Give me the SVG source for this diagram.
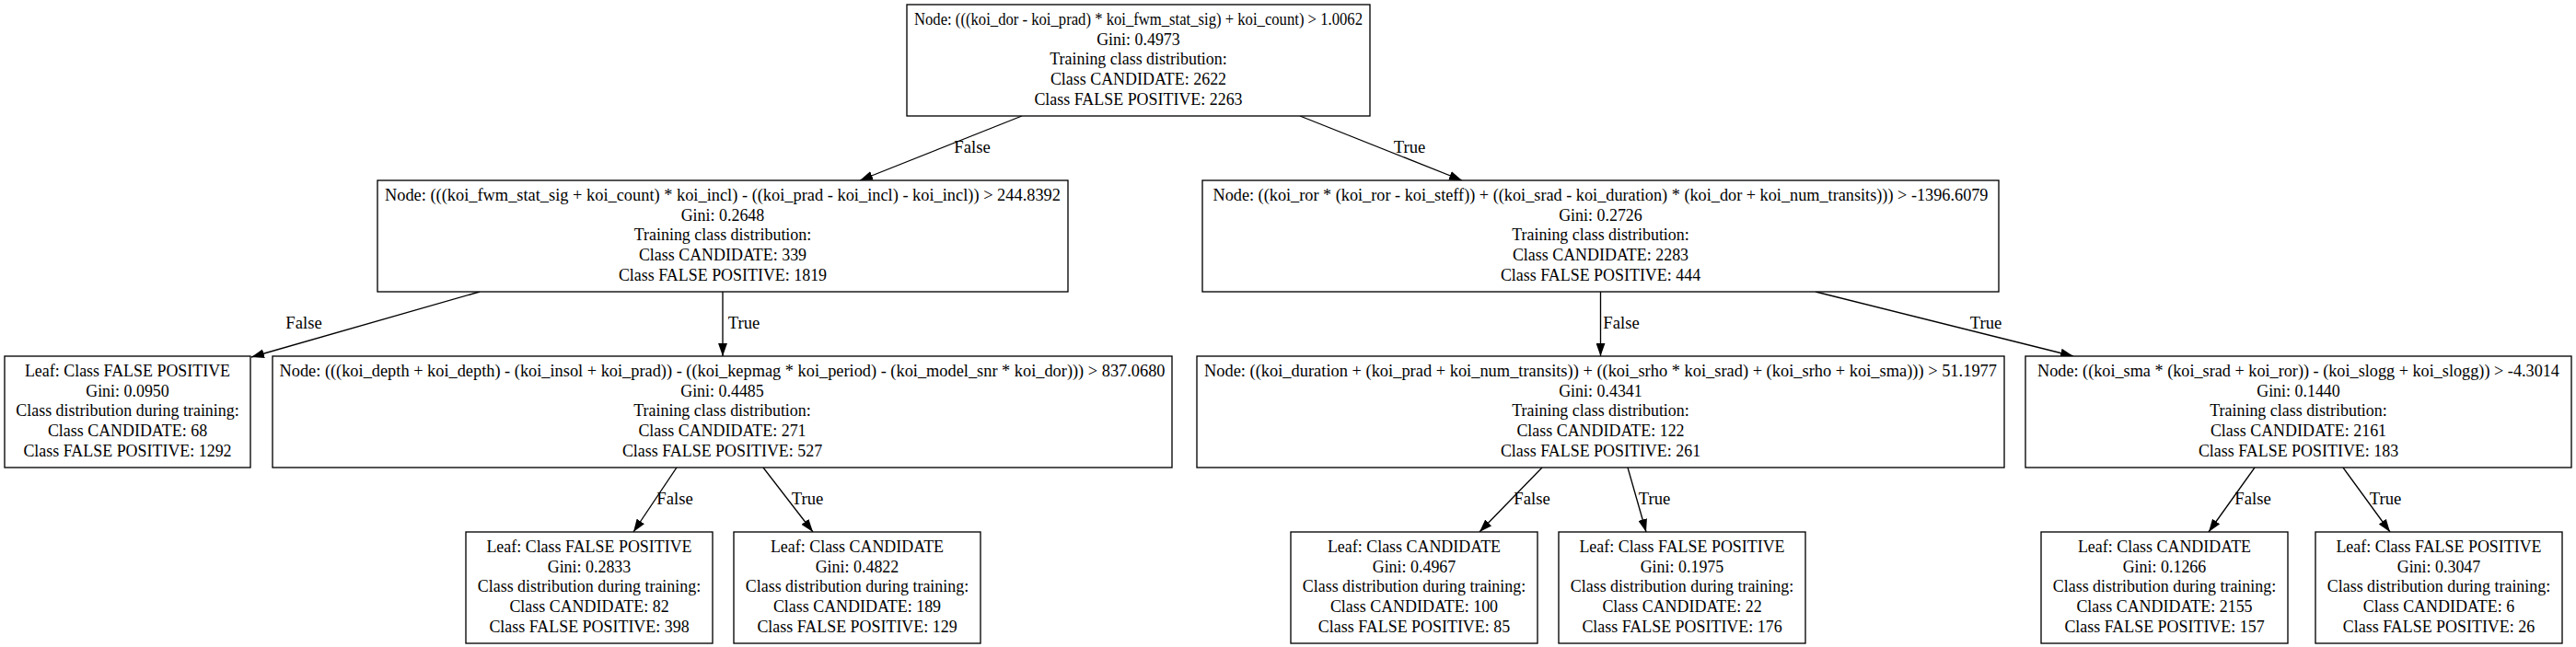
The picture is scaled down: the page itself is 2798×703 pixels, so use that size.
<svg xmlns="http://www.w3.org/2000/svg" width="2798" height="703" viewBox="0 0 2798 703">
<style>
.box{fill:#fff;stroke:#000;stroke-width:1.33}
.t{font-family:"Liberation Serif","Times New Roman",serif;font-size:18.67px;text-anchor:middle;fill:#000}
.e{stroke:#000;stroke-width:1.33;fill:none;marker-end:url(#arr)}
</style>
<defs>
<marker id="arr" markerUnits="userSpaceOnUse" markerWidth="14" markerHeight="10" refX="13.3" refY="4.7" orient="auto" viewBox="0 0 13.3 9.4"><path d="M0,0 L13.3,4.7 L0,9.4 z" fill="#000"/></marker>
</defs>
<rect width="2798" height="703" fill="#fff"/>
<g id="edges">
<line class="e" x1="1110" y1="126" x2="934" y2="196"/>
<line class="e" x1="1412" y1="126" x2="1588" y2="196"/>
<line class="e" x1="521" y1="317" x2="273" y2="388"/>
<line class="e" x1="785" y1="317" x2="785" y2="387"/>
<line class="e" x1="1738.5" y1="317" x2="1738.5" y2="387"/>
<line class="e" x1="1972" y1="317" x2="2252" y2="387"/>
<line class="e" x1="735" y1="508" x2="688" y2="578"/>
<line class="e" x1="829" y1="508" x2="883" y2="578"/>
<line class="e" x1="1675" y1="508" x2="1607" y2="578"/>
<line class="e" x1="1768" y1="508" x2="1788" y2="578"/>
<line class="e" x1="2449" y1="508" x2="2399" y2="578"/>
<line class="e" x1="2545" y1="508" x2="2596" y2="578"/>
<text class="t" x="1056" y="166">False</text>
<text class="t" x="1531" y="166">True</text>
<text class="t" x="330" y="357">False</text>
<text class="t" x="808" y="357">True</text>
<text class="t" x="1761" y="357">False</text>
<text class="t" x="2157" y="357">True</text>
<text class="t" x="733" y="548">False</text>
<text class="t" x="877" y="548">True</text>
<text class="t" x="1664" y="548">False</text>
<text class="t" x="1797" y="548">True</text>
<text class="t" x="2447" y="548">False</text>
<text class="t" x="2591" y="548">True</text>
</g>
<g id="n0">
<rect class="box" x="985" y="5" width="503" height="121"/>
<text class="t" transform="matrix(0.96 0 0 1 49.46 0)"><tspan x="1236.5" y="27" textLength="507.3" lengthAdjust="spacingAndGlyphs">Node: (((koi_dor - koi_prad) * koi_fwm_stat_sig) + koi_count) &gt; 1.0062</tspan><tspan x="1236.5" y="48.75">Gini: 0.4973</tspan><tspan x="1236.5" y="70.5">Training class distribution:</tspan><tspan x="1236.5" y="92.25">Class CANDIDATE: 2622</tspan><tspan x="1236.5" y="114">Class FALSE POSITIVE: 2263</tspan></text>
</g>
<g id="n1">
<rect class="box" x="410" y="196" width="750" height="121"/>
<text class="t" transform="matrix(0.96 0 0 1 31.4 0)"><tspan x="785" y="218" textLength="764.6" lengthAdjust="spacingAndGlyphs">Node: (((koi_fwm_stat_sig + koi_count) * koi_incl) - ((koi_prad - koi_incl) - koi_incl)) &gt; 244.8392</tspan><tspan x="785" y="239.75">Gini: 0.2648</tspan><tspan x="785" y="261.5">Training class distribution:</tspan><tspan x="785" y="283.25">Class CANDIDATE: 339</tspan><tspan x="785" y="305">Class FALSE POSITIVE: 1819</tspan></text>
</g>
<g id="n2">
<rect class="box" x="1306" y="196" width="865" height="121"/>
<text class="t" transform="matrix(0.96 0 0 1 69.54 0)"><tspan x="1738.5" y="218" textLength="877.1" lengthAdjust="spacingAndGlyphs">Node: ((koi_ror * (koi_ror - koi_steff)) + ((koi_srad - koi_duration) * (koi_dor + koi_num_transits))) &gt; -1396.6079</tspan><tspan x="1738.5" y="239.75">Gini: 0.2726</tspan><tspan x="1738.5" y="261.5">Training class distribution:</tspan><tspan x="1738.5" y="283.25">Class CANDIDATE: 2283</tspan><tspan x="1738.5" y="305">Class FALSE POSITIVE: 444</tspan></text>
</g>
<g id="n3">
<rect class="box" x="5" y="387" width="267" height="121"/>
<text class="t" transform="matrix(0.96 0 0 1 5.54 0)"><tspan x="138.5" y="409">Leaf: Class FALSE POSITIVE</tspan><tspan x="138.5" y="430.75">Gini: 0.0950</tspan><tspan x="138.5" y="452.5">Class distribution during training:</tspan><tspan x="138.5" y="474.25">Class CANDIDATE: 68</tspan><tspan x="138.5" y="496">Class FALSE POSITIVE: 1292</tspan></text>
</g>
<g id="n4">
<rect class="box" x="296" y="387" width="977" height="121"/>
<text class="t" transform="matrix(0.96 0 0 1 31.38 0)"><tspan x="784.5" y="409" textLength="1002.1" lengthAdjust="spacingAndGlyphs">Node: (((koi_depth + koi_depth) - (koi_insol + koi_prad)) - ((koi_kepmag * koi_period) - (koi_model_snr * koi_dor))) &gt; 837.0680</tspan><tspan x="784.5" y="430.75">Gini: 0.4485</tspan><tspan x="784.5" y="452.5">Training class distribution:</tspan><tspan x="784.5" y="474.25">Class CANDIDATE: 271</tspan><tspan x="784.5" y="496">Class FALSE POSITIVE: 527</tspan></text>
</g>
<g id="n5">
<rect class="box" x="1300" y="387" width="877" height="121"/>
<text class="t" transform="matrix(0.96 0 0 1 69.54 0)"><tspan x="1738.5" y="409" textLength="896.9" lengthAdjust="spacingAndGlyphs">Node: ((koi_duration + (koi_prad + koi_num_transits)) + ((koi_srho * koi_srad) + (koi_srho + koi_sma))) &gt; 51.1977</tspan><tspan x="1738.5" y="430.75">Gini: 0.4341</tspan><tspan x="1738.5" y="452.5">Training class distribution:</tspan><tspan x="1738.5" y="474.25">Class CANDIDATE: 122</tspan><tspan x="1738.5" y="496">Class FALSE POSITIVE: 261</tspan></text>
</g>
<g id="n6">
<rect class="box" x="2200" y="387" width="593" height="121"/>
<text class="t" transform="matrix(0.96 0 0 1 99.86 0)"><tspan x="2496.5" y="409" textLength="590.6" lengthAdjust="spacingAndGlyphs">Node: ((koi_sma * (koi_srad + koi_ror)) - (koi_slogg + koi_slogg)) &gt; -4.3014</tspan><tspan x="2496.5" y="430.75">Gini: 0.1440</tspan><tspan x="2496.5" y="452.5">Training class distribution:</tspan><tspan x="2496.5" y="474.25">Class CANDIDATE: 2161</tspan><tspan x="2496.5" y="496">Class FALSE POSITIVE: 183</tspan></text>
</g>
<g id="n7">
<rect class="box" x="506" y="578" width="268" height="121"/>
<text class="t" transform="matrix(0.96 0 0 1 25.6 0)"><tspan x="640" y="600">Leaf: Class FALSE POSITIVE</tspan><tspan x="640" y="621.75">Gini: 0.2833</tspan><tspan x="640" y="643.5">Class distribution during training:</tspan><tspan x="640" y="665.25">Class CANDIDATE: 82</tspan><tspan x="640" y="687">Class FALSE POSITIVE: 398</tspan></text>
</g>
<g id="n8">
<rect class="box" x="797" y="578" width="268" height="121"/>
<text class="t" transform="matrix(0.96 0 0 1 37.24 0)"><tspan x="931" y="600">Leaf: Class CANDIDATE</tspan><tspan x="931" y="621.75">Gini: 0.4822</tspan><tspan x="931" y="643.5">Class distribution during training:</tspan><tspan x="931" y="665.25">Class CANDIDATE: 189</tspan><tspan x="931" y="687">Class FALSE POSITIVE: 129</tspan></text>
</g>
<g id="n9">
<rect class="box" x="1402" y="578" width="268" height="121"/>
<text class="t" transform="matrix(0.96 0 0 1 61.44 0)"><tspan x="1536" y="600">Leaf: Class CANDIDATE</tspan><tspan x="1536" y="621.75">Gini: 0.4967</tspan><tspan x="1536" y="643.5">Class distribution during training:</tspan><tspan x="1536" y="665.25">Class CANDIDATE: 100</tspan><tspan x="1536" y="687">Class FALSE POSITIVE: 85</tspan></text>
</g>
<g id="n10">
<rect class="box" x="1693" y="578" width="268" height="121"/>
<text class="t" transform="matrix(0.96 0 0 1 73.08 0)"><tspan x="1827" y="600">Leaf: Class FALSE POSITIVE</tspan><tspan x="1827" y="621.75">Gini: 0.1975</tspan><tspan x="1827" y="643.5">Class distribution during training:</tspan><tspan x="1827" y="665.25">Class CANDIDATE: 22</tspan><tspan x="1827" y="687">Class FALSE POSITIVE: 176</tspan></text>
</g>
<g id="n11">
<rect class="box" x="2217" y="578" width="268" height="121"/>
<text class="t" transform="matrix(0.96 0 0 1 94.04 0)"><tspan x="2351" y="600">Leaf: Class CANDIDATE</tspan><tspan x="2351" y="621.75">Gini: 0.1266</tspan><tspan x="2351" y="643.5">Class distribution during training:</tspan><tspan x="2351" y="665.25">Class CANDIDATE: 2155</tspan><tspan x="2351" y="687">Class FALSE POSITIVE: 157</tspan></text>
</g>
<g id="n12">
<rect class="box" x="2515" y="578" width="268" height="121"/>
<text class="t" transform="matrix(0.96 0 0 1 105.96 0)"><tspan x="2649" y="600">Leaf: Class FALSE POSITIVE</tspan><tspan x="2649" y="621.75">Gini: 0.3047</tspan><tspan x="2649" y="643.5">Class distribution during training:</tspan><tspan x="2649" y="665.25">Class CANDIDATE: 6</tspan><tspan x="2649" y="687">Class FALSE POSITIVE: 26</tspan></text>
</g>
</svg>
